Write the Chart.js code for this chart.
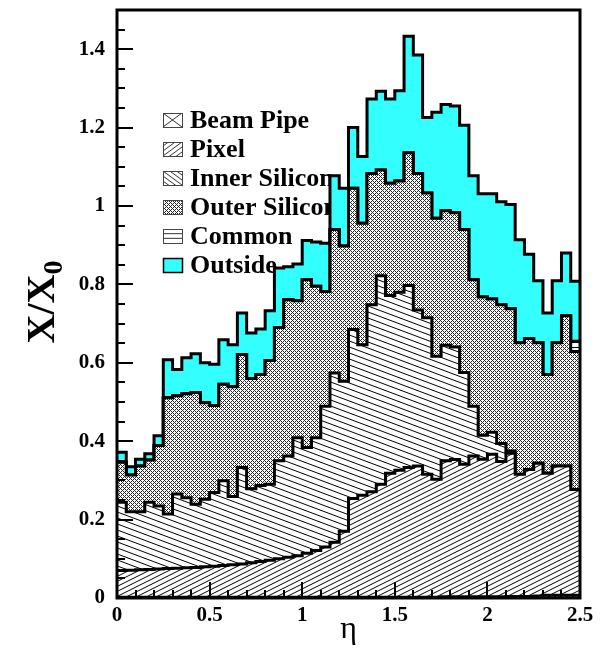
<!DOCTYPE html>
<html>
<head>
<meta charset="utf-8">
<script src="https://cdn.jsdelivr.net/npm/chart.js@4.4.0/dist/chart.umd.min.js"></script>
<style>
  html, body { margin: 0; padding: 0; background: #fff; }
  canvas { display: block; }
</style>
</head>
<body>
<canvas id="chart" width="603" height="651"></canvas>
<script>
// eta binning: 50 bins of 0.05 from 0 to 2.5
const etaMin = 0;
const etaMax = 2.5;
const binWidth = 0.05;

const layerNames = ['Beam Pipe', 'Pixel', 'Inner Silicon', 'Outer Silicon', 'Common', 'Outside'];

// cumulative X/X0 at the top of each layer, one value per bin
const beamPipeTop = [
  0.002, 0.002, 0.002, 0.002, 0.002, 0.002, 0.002, 0.002, 0.002, 0.002,
  0.002, 0.002, 0.002, 0.002, 0.002, 0.002, 0.002, 0.002, 0.002, 0.002,
  0.002, 0.002, 0.002, 0.002, 0.002, 0.002, 0.002, 0.002, 0.002, 0.002,
  0.002, 0.002, 0.002, 0.002, 0.002, 0.003, 0.003, 0.003, 0.003, 0.003,
  0.003, 0.003, 0.004, 0.004, 0.004, 0.005, 0.007, 0.007, 0.007, 0.007,
];
const pixelTop = [
  0.070, 0.071, 0.072, 0.073, 0.074, 0.075, 0.076, 0.077, 0.078, 0.080,
  0.081, 0.083, 0.085, 0.087, 0.090, 0.093, 0.096, 0.100, 0.104, 0.108,
  0.114, 0.121, 0.130, 0.142, 0.170, 0.254, 0.262, 0.271, 0.290, 0.318,
  0.326, 0.333, 0.337, 0.316, 0.303, 0.350, 0.353, 0.341, 0.362, 0.354,
  0.367, 0.348, 0.369, 0.316, 0.328, 0.344, 0.318, 0.337, 0.337, 0.277,
];
const innerSiliconTop = [
  0.244, 0.220, 0.220, 0.244, 0.235, 0.214, 0.265, 0.256, 0.239, 0.252,
  0.269, 0.299, 0.259, 0.333, 0.279, 0.287, 0.290, 0.350, 0.362, 0.409,
  0.384, 0.409, 0.489, 0.574, 0.553, 0.685, 0.646, 0.748, 0.822, 0.772,
  0.780, 0.797, 0.735, 0.715, 0.617, 0.645, 0.640, 0.575, 0.489, 0.415,
  0.423, 0.394, 0.375, 0.316, 0.328, 0.344, 0.318, 0.337, 0.337, 0.277,
];
const outerSiliconTop = [
  0.346, 0.314, 0.337, 0.352, 0.389, 0.511, 0.516, 0.521, 0.524, 0.498,
  0.491, 0.545, 0.539, 0.621, 0.560, 0.570, 0.606, 0.690, 0.761, 0.758,
  0.812, 0.795, 0.782, 0.940, 0.898, 1.045, 0.956, 1.083, 1.092, 1.058,
  1.064, 1.136, 1.083, 1.033, 0.969, 0.988, 0.983, 0.940, 0.812, 0.768,
  0.763, 0.748, 0.738, 0.651, 0.662, 0.651, 0.570, 0.651, 0.720, 0.629,
];
const commonTop = [
  0.346, 0.314, 0.337, 0.352, 0.389, 0.511, 0.516, 0.521, 0.524, 0.498,
  0.491, 0.545, 0.539, 0.621, 0.560, 0.570, 0.606, 0.690, 0.761, 0.758,
  0.812, 0.795, 0.782, 0.940, 0.898, 1.045, 0.956, 1.083, 1.092, 1.058,
  1.064, 1.136, 1.083, 1.033, 0.969, 0.988, 0.983, 0.940, 0.812, 0.768,
  0.763, 0.748, 0.738, 0.651, 0.662, 0.651, 0.570, 0.651, 0.720, 0.655,
];
const outsideTop = [
  0.372, 0.335, 0.354, 0.368, 0.414, 0.608, 0.583, 0.613, 0.623, 0.600,
  0.596, 0.659, 0.646, 0.727, 0.676, 0.686, 0.733, 0.842, 0.845, 0.852,
  0.912, 0.908, 0.905, 1.077, 1.045, 1.200, 1.126, 1.273, 1.293, 1.273,
  1.294, 1.433, 1.385, 1.226, 1.239, 1.259, 1.255, 1.206, 1.077, 1.031,
  1.031, 1.011, 1.004, 0.914, 0.877, 0.809, 0.727, 0.809, 0.880, 0.808,
];

const yMax = 1.5;
const serif = '"Liberation Serif", "Times New Roman", serif';
const cyan = '#33ffff';

const canvas = document.getElementById('chart');
const ctx = canvas.getContext('2d');

// ---- fill patterns ----
function makeTile(w, h, draw) {
  const c = document.createElement('canvas');
  c.width = w;
  c.height = h;
  const g = c.getContext('2d');
  g.fillStyle = '#fff';
  g.fillRect(0, 0, w, h);
  g.strokeStyle = '#000';
  g.lineWidth = 1;
  draw(g, w, h);
  return ctx.createPattern(c, 'repeat');
}

function diagonal(rising) {
  return (g, w, h) => {
    g.beginPath();
    for (const dx of [-w, 0, w]) {
      for (const dy of [-h, 0, h]) {
        if (rising) { g.moveTo(dx, dy + h); g.lineTo(dx + w, dy); }
        else { g.moveTo(dx, dy); g.lineTo(dx + w, dy + h); }
      }
    }
    g.stroke();
  };
}

function crossHatch() {
  const c = document.createElement('canvas');
  c.width = 4;
  c.height = 4;
  const g = c.getContext('2d');
  const img = g.createImageData(4, 4);
  for (let y = 0; y < 4; y++) {
    for (let x = 0; x < 4; x++) {
      const dark = (x + y) % 4 === 0 || (x - y + 4) % 4 === 0;
      const v = dark ? 40 : 255;
      const k = (y * 4 + x) * 4;
      img.data[k] = img.data[k + 1] = img.data[k + 2] = v;
      img.data[k + 3] = 255;
    }
  }
  g.putImageData(img, 0, 0);
  return ctx.createPattern(c, 'repeat');
}

const beamPattern = makeTile(6, 6, (g, w, h) => { diagonal(true)(g, w, h); diagonal(false)(g, w, h); });
const pixelPattern = makeTile(10, 5, diagonal(true));
const innerPattern = makeTile(16, 6, diagonal(false));
const outerPattern = crossHatch();
const commonPattern = makeTile(4, 5, (g, w) => { g.beginPath(); g.moveTo(0, 2.5); g.lineTo(w, 2.5); g.stroke(); });

const layers = [
  { label: layerNames[0], values: beamPipeTop, fillStyle: beamPattern },
  { label: layerNames[1], values: pixelTop, fillStyle: pixelPattern },
  { label: layerNames[2], values: innerSiliconTop, fillStyle: innerPattern },
  { label: layerNames[3], values: outerSiliconTop, fillStyle: outerPattern },
  { label: layerNames[4], values: commonTop, fillStyle: commonPattern },
  { label: layerNames[5], values: outsideTop, fillStyle: cyan },
];

// histogram steps: one point per lower bin edge plus the closing edge
function toSteps(values) {
  const pts = values.map((v, i) => ({ x: etaMin + i * binWidth, y: v }));
  pts.push({ x: etaMax, y: values[values.length - 1] });
  return pts;
}

// ---- legend drawn under the histograms ----
const legendIcons = {
  'Beam Pipe': (g, x, y, w, h) => {
    g.beginPath();
    g.moveTo(x, y); g.lineTo(x + w, y + h);
    g.moveTo(x + w, y); g.lineTo(x, y + h);
    g.stroke();
  },
  'Pixel': (g, x, y, w, h) => {
    g.beginPath();
    for (let k = -2; k <= 3; k++) {
      g.moveTo(x, y + h + 5 * k - 5);
      g.lineTo(x + w, y + 5 * k - 5);
    }
    g.stroke();
  },
  'Inner Silicon': (g, x, y, w, h) => {
    g.beginPath();
    for (let k = -2; k <= 3; k++) {
      g.moveTo(x, y + 5 * k - 5);
      g.lineTo(x + w, y + h + 5 * k - 5);
    }
    g.stroke();
  },
  'Outer Silicon': (g, x, y, w, h) => {
    g.fillStyle = outerPattern;
    g.fillRect(x, y, w, h);
  },
  'Common': (g, x, y, w, h) => {
    g.beginPath();
    g.moveTo(x, y + h / 3); g.lineTo(x + w, y + h / 3);
    g.moveTo(x, y + 2 * h / 3); g.lineTo(x + w, y + 2 * h / 3);
    g.stroke();
  },
  'Outside': (g, x, y, w, h) => {
    g.fillStyle = cyan;
    g.fillRect(x, y, w, h);
  },
};

const boxLegend = {
  id: 'boxLegend',
  beforeDatasetsDraw(chart) {
    const g = chart.ctx;
    const x0 = 163, w = 19, h = 14, top = 113, step = 29;
    g.save();
    g.font = `bold 26px ${serif}`;
    g.textBaseline = 'alphabetic';
    g.textAlign = 'left';
    layerNames.forEach((name, i) => {
      const y = top + i * step;
      g.save();
      g.beginPath();
      g.rect(x0, y, w, h);
      g.clip();
      g.strokeStyle = '#333';
      g.lineWidth = 1;
      legendIcons[name](g, x0, y, w, h);
      g.restore();
      g.strokeStyle = name === 'Outside' ? '#000' : '#444';
      g.lineWidth = name === 'Outside' ? 1.5 : 1;
      g.strokeRect(x0 + 0.5, y + 0.5, w, h);
      g.fillStyle = '#000';
      g.fillText(name, 190, y + 15);
    });
    g.restore();
  },
};

// ---- frame, inward ticks and axis titles ----
const frameAndTitles = {
  id: 'frameAndTitles',
  afterDraw(chart) {
    const g = chart.ctx;
    const { left, right, top, bottom } = chart.chartArea;
    const xs = chart.scales.x;
    const ys = chart.scales.y;
    g.save();
    g.strokeStyle = '#000';
    g.lineWidth = 2;
    g.beginPath();
    for (let i = 0; i <= 30; i++) {
      const v = i * 0.05;
      const py = Math.round(ys.getPixelForValue(v));
      const len = i % 4 === 0 ? 16 : 8;
      g.moveTo(left, py); g.lineTo(left + len, py);
    }
    for (let i = 0; i <= 25; i++) {
      const v = i * 0.1;
      const px = Math.round(xs.getPixelForValue(v));
      const len = i % 5 === 0 ? 16 : 8;
      g.moveTo(px, bottom); g.lineTo(px, bottom - len);
    }
    g.stroke();

    g.lineWidth = 3;
    g.strokeRect(left, top, right - left, bottom - top);

    // x title
    g.fillStyle = '#000';
    g.font = `32px ${serif}`;
    g.textAlign = 'center';
    g.textBaseline = 'alphabetic';
    g.fillText('\u03b7', (left + right) / 2, 638);

    // y title: X/X0 with subscript
    g.translate(54, (top + bottom) / 2 - 2);
    g.rotate(-Math.PI / 2);
    const main = 'X/X';
    g.font = `bold 40px ${serif}`;
    const wMain = g.measureText(main).width;
    g.font = `bold 28px ${serif}`;
    const wSub = g.measureText('0').width;
    const start = -(wMain + wSub) / 2;
    g.textAlign = 'left';
    g.font = `bold 40px ${serif}`;
    g.fillText(main, start, 0);
    g.font = `bold 28px ${serif}`;
    g.fillText('0', start + wMain, 8);
    g.restore();
  },
};

const tickFont = { family: serif, weight: 'bold', size: 21 };
const plainNumber = (v) => String(Number(v.toFixed(2)));

new Chart(canvas, {
  type: 'line',
  data: {
    datasets: layers.map((layer, i) => ({
      label: layer.label,
      data: toSteps(layer.values),
      stepped: 'before',
      borderColor: '#000',
      borderWidth: 3,
      borderJoinStyle: 'miter',
      pointRadius: 0,
      backgroundColor: layer.fillStyle,
      fill: i === 0 ? 'origin' : '-1',
    })),
  },
  options: {
    responsive: false,
    animation: false,
    devicePixelRatio: 1,
    layout: { padding: { top: 10, right: 23, left: 0, bottom: 0 } },
    plugins: { legend: { display: false }, tooltip: { enabled: false } },
    scales: {
      x: {
        type: 'linear',
        min: etaMin,
        max: etaMax,
        grid: { display: false, drawTicks: false },
        border: { display: false },
        ticks: { stepSize: 0.5, maxRotation: 0, autoSkip: false, padding: 5, color: '#000', font: tickFont, callback: plainNumber },
        afterFit(scale) {
          scale.height = 53;
          scale.paddingLeft = 0;
          scale.paddingRight = 0;
        },
      },
      y: {
        type: 'linear',
        min: 0,
        max: yMax,
        grid: { display: false, drawTicks: false },
        border: { display: false },
        ticks: { stepSize: 0.2, includeBounds: false, padding: 12, color: '#000', font: tickFont, callback: plainNumber },
        afterFit(scale) {
          scale.width = 117;
          scale.paddingTop = 0;
          scale.paddingBottom = 0;
        },
      },
    },
  },
  plugins: [boxLegend, frameAndTitles],
});
</script>
</body>
</html>
